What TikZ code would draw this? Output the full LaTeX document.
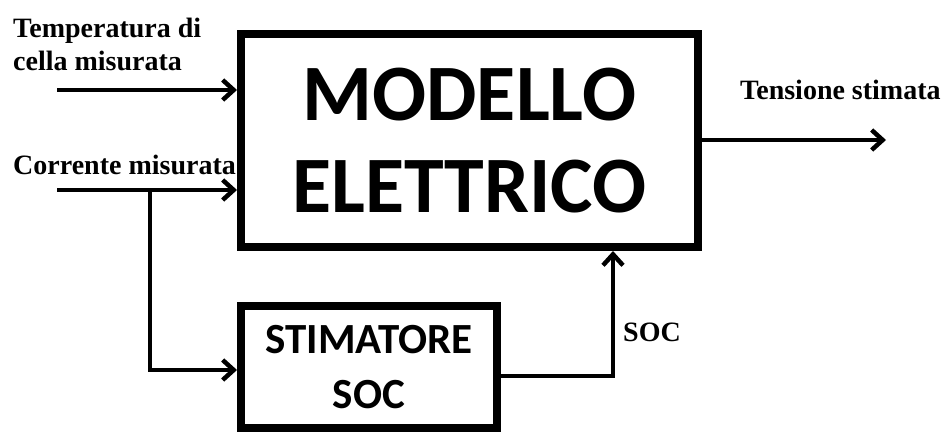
\documentclass[tikz,border=0pt]{standalone}
\usepackage{fontspec}
\setmainfont{Liberation Serif}
\newfontfamily\boxfont{Carlito}
\usetikzlibrary{arrows.meta}
\definecolor{ModelInk}{HTML}{000000}
\definecolor{ModelPaper}{HTML}{FFFFFF}

\begin{document}
\begin{tikzpicture}[x=1pt,y=-1pt,
    blockbox/.style={draw=ModelInk, line width=8pt, inner sep=0pt, align=center},
    flow/.style={draw=ModelInk, line width=4.5pt, -{Straight Barb[length=11pt,width=20pt]}},
    sigtext/.style={ModelInk, font=\bfseries\fontsize{28pt}{33pt}\selectfont, inner sep=0pt, align=left}]
        \useasboundingbox[fill=ModelPaper] (0,0) rectangle (946,433);
        % blocks
        \node[blockbox, minimum width=457, minimum height=213,
          font=\boxfont\bfseries\fontsize{80pt}{92pt}\selectfont] (modello) at (469.5,140.5) {MODELLO\\ELETTRICO};
        \node[blockbox, minimum width=256, minimum height=122,
          font=\boxfont\bfseries\fontsize{43pt}{55pt}\selectfont] (stimatore) at (369,367) {STIMATORE\\SOC};
        % free ends and bends
        \coordinate (tempin) at (57,90);
        \coordinate (currin) at (57,190);
        \coordinate (split) at (150,190);
        \coordinate (socfeed) at (150,370);
        \coordinate (socout) at (613,376);
        \coordinate (voltout) at (886,140);
        % connectors
        \draw[flow] (tempin) -- (modello.west |- tempin);
        \draw[flow] (currin) -- (modello.west |- currin);
        \draw[flow] (split) |- (stimatore.west |- socfeed);
        \draw[flow] (stimatore.east |- socout) -| (modello.south -| socout);
        \draw[flow] (modello.east |- voltout) -- (voltout);
        % labels
        \node[sigtext, anchor=north west] (templbl) at (13,18) {Temperatura di\\cella misurata};
        \node[sigtext, anchor=base west] (currlbl) at (13,175) {Corrente misurata};
        \node[sigtext, anchor=base west] (voltlbl) at (740,100) {Tensione stimata};
        \node[sigtext, anchor=west] (soclbl) at (623,332) {SOC};
      \end{tikzpicture}
\end{document}
